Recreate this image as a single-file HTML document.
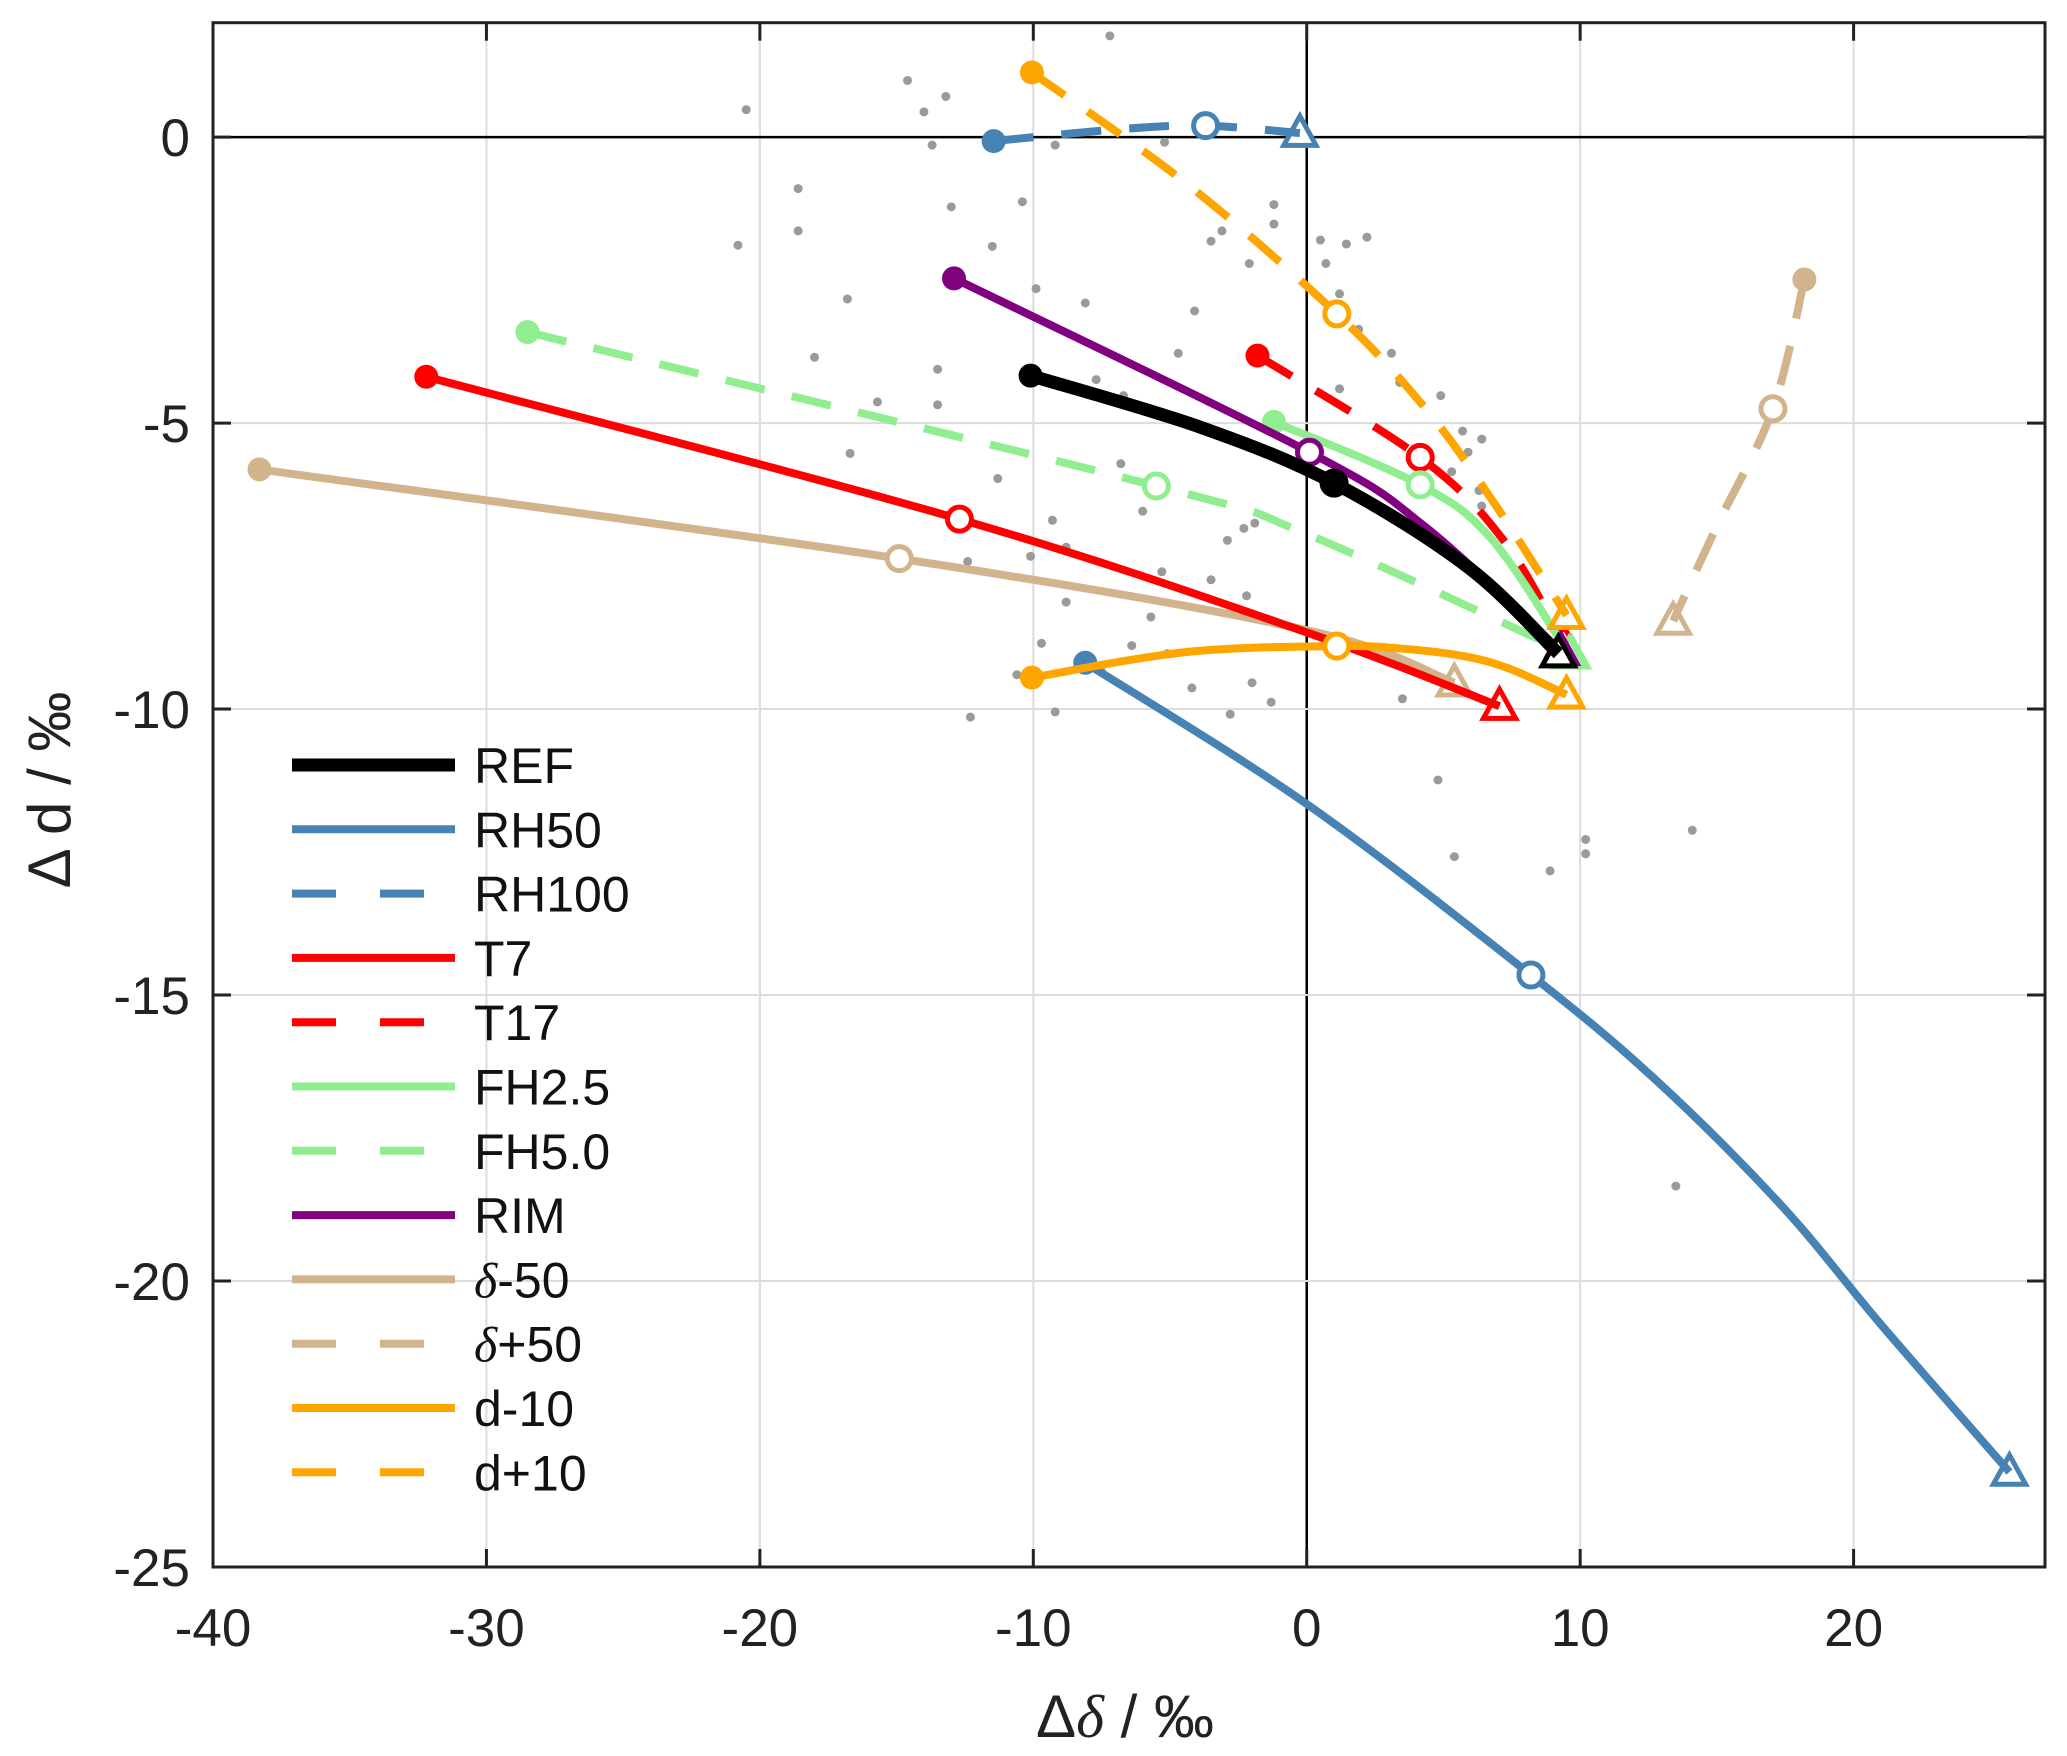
<!DOCTYPE html>
<html><head><meta charset="utf-8"><style>
html,body{margin:0;padding:0;background:#fff;}
svg{display:block;font-family:"Liberation Sans",sans-serif;}
</style></head><body>
<svg id="chart" width="2067" height="1756" viewBox="0 0 2067 1756" xmlns="http://www.w3.org/2000/svg">
<g id="grid"></g>
<g id="dots"></g>
<g id="series"></g>
<g id="axes"></g>
<g id="legend"></g>
<text transform="translate(70,790) rotate(-90)" text-anchor="middle" font-size="60" fill="#222">Δ d / ‰</text>
<text x="1125" y="1737" text-anchor="middle" font-size="60" fill="#222">Δ<tspan font-family="Liberation Serif" font-style="italic">δ</tspan> / ‰</text>
</svg>
<script>
const xTicks=[-40,-30,-20,-10,0,10,20];
const yTicks=[0,-5,-10,-15,-20,-25];
const dotX=[-7.2,-20.5,-14.6,-13.2,-14.0,-13.7,-5.2,-9.2,-13.0,-10.4,-18.6,-20.8,-18.6,-11.5,-3.1,-3.5,-1.2,0.5,1.45,2.2,0.7,-2.1,-1.2,-16.8,-9.9,-8.1,-4.1,1.2,1.9,3.1,-18.0,-13.5,-4.7,1.2,3.4,-13.5,-15.7,-7.7,-6.7,4.9,-16.7,5.7,6.4,5.9,5.3,6.3,-11.3,-6.8,-6.0,6.4,-9.3,-8.8,-2.3,-2.9,-1.9,-12.4,-10.1,-5.3,-3.5,-8.8,-2.2,-5.7,8.1,-9.7,-6.4,-5.1,-10.6,-7.5,-4.2,-2.0,-1.3,-2.8,-12.3,-9.2,3.5,4.8,5.4,8.9,10.2,10.2,14.1,13.5];
const dotY=[1.77,0.48,0.99,0.71,0.44,-0.14,-0.09,-0.14,-1.22,-1.13,-0.9,-1.89,-1.64,-1.91,-1.64,-1.82,-1.18,-1.8,-1.87,-1.75,-2.21,-2.21,-1.52,-2.83,-2.65,-2.9,-3.04,-2.74,-3.36,-3.78,-3.85,-4.06,-3.78,-4.4,-4.29,-4.68,-4.63,-4.24,-4.52,-4.52,-5.53,-5.14,-5.28,-5.51,-5.85,-6.18,-5.97,-5.71,-6.54,-6.45,-6.7,-7.17,-6.84,-7.05,-6.75,-7.42,-7.33,-7.6,-7.74,-8.13,-8.02,-8.39,-7.81,-8.85,-8.89,-9.03,-9.4,-9.35,-9.63,-9.54,-9.88,-10.09,-10.14,-10.05,-9.82,-11.24,-12.58,-12.83,-12.28,-12.53,-12.12,-18.34];

const names=["REF","RH50","RH100","T7","T17","FH2.5","FH5.0","RIM","δ-50","δ+50","d-10","d+10"];
const colors=["#000000","#4682b4","#4682b4","#ff0000","#ff0000","#90ee90","#90ee90","#800080","#d2b48c","#d2b48c","#ffa500","#ffa500"];
const dashed=[false,false,true,false,true,false,true,false,false,true,false,true];
const refX=[-10.1,-3.9,1.0,5.9,9.2], refY=[-4.17,-5.07,-6.05,-7.52,-9.03];
const rh50X=[-8.1,0,8.2,12.8,17.4,21,25.7], rh50Y=[-9.19,-11.66,-14.65,-16.5,-18.7,-20.76,-23.34];
const rh100X=[-11.45,-6.8,-3.7,-0.25], rh100Y=[-0.07,0.14,0.2,0.07];
const t7X=[-32.2,-12.7,0,7.05], t7Y=[-4.19,-6.68,-8.66,-9.95];
const t17X=[-1.8,4.15,7.2,9.4], t17Y=[-3.82,-5.6,-7.05,-8.85];
const fh25X=[-1.2,4.15,6.8,9.6], fh25Y=[-4.98,-6.08,-7.05,-9.05];
const fh50X=[-28.5,-5.5,0,9.7], fh50Y=[-3.41,-6.1,-6.94,-9.05];
const rimX=[-12.9,0.1,4.35,9.3], rimY=[-2.47,-5.51,-6.82,-8.99];
const dm50X=[-38.3,-14.9,0,5.4], dm50Y=[-5.81,-7.37,-8.62,-9.54];
const dp50X=[18.2,17.05,15,13.4], dp50Y=[-2.49,-4.75,-6.8,-8.46];
const dm10X=[-10.05,-4.35,1.1,3.4,5.8,7.5,9.5], dm10Y=[-9.45,-9.0,-8.9,-8.94,-9.08,-9.31,-9.75];
const dp10X=[-10.05,-4.35,1.1,4.35,6.8,9.5], dp10Y=[1.13,-0.83,-3.09,-4.75,-6.36,-8.36];
// index of hollow-circle point in each series
const midIdx=[2,2,2,1,1,1,1,1,1,1,2,2];

const seriesX=[refX,rh50X,rh100X,t7X,t17X,fh25X,fh50X,rimX,dm50X,dp50X,dm10X,dp10X];
const seriesY=[refY,rh50Y,rh100Y,t7Y,t17Y,fh25Y,fh50Y,rimY,dm50Y,dp50Y,dm10Y,dp10Y];

const L=213,R=2045,T=22.7,B=1567,XMIN=-40,XMAX=27,YMIN=-25,YMAX=2;
const sx=v=>L+(v-XMIN)/(XMAX-XMIN)*(R-L);
const sy=v=>B-(v-YMIN)/(YMAX-YMIN)*(B-T);
const NS="http://www.w3.org/2000/svg";
function mk(tag,attrs,parent){const e=document.createElementNS(NS,tag);for(const k in attrs)e.setAttribute(k,attrs[k]);parent.appendChild(e);return e;}

const grid=document.getElementById('grid');
xTicks.forEach(v=>{
  const l=mk('line',{x1:sx(v),x2:sx(v),y1:T,y2:B,stroke:v===0?'#000':'#dcdcdc','stroke-width':v===0?2.5:2},grid);
  
  
});
yTicks.forEach(v=>{
  const l=mk('line',{x1:L,x2:R,y1:sy(v),y2:sy(v),stroke:v===0?'#000':'#dcdcdc','stroke-width':v===0?2.5:2},grid);
  
  
});

const dots=document.getElementById('dots');
dotX.forEach((v,i)=>{
  const c=mk('circle',{cx:sx(v),cy:sy(dotY[i]),r:4.5,fill:'#9a9a9a'},dots);
  
  
});

const ser=document.getElementById('series');
function catmull(px,py){
  let d=`M${px[0]},${py[0]}`;
  for(let i=0;i<px.length-1;i++){
    const x0=px[i-1]??px[i],y0=py[i-1]??py[i],x3=px[i+2]??px[i+1],y3=py[i+2]??py[i+1];
    const c1x=px[i]+(px[i+1]-x0)/6,c1y=py[i]+(py[i+1]-y0)/6;
    const c2x=px[i+1]-(x3-px[i])/6,c2y=py[i+1]-(y3-py[i])/6;
    d+=` C${c1x},${c1y} ${c2x},${c2y} ${px[i+1]},${py[i+1]}`;
  }
  return d;
}
function tri(cx,cy,s,col,parent){
  return mk('polygon',{points:`${cx},${cy-s} ${cx-s*0.95},${cy+s*0.72} ${cx+s*0.95},${cy+s*0.72}`,fill:'#fff',stroke:col,'stroke-width':5,'stroke-linejoin':'miter'},parent);
}
const order=[8,9,3,4,1,2,6,5,7,0,10,11];
order.forEach(k=>{
  const g=mk('g',{},ser);
  
  
  const px=seriesX[k].map(sx),py=seriesY[k].map(sy);
  const n=px.length-1;
  const tr=tri(px[n],py[n],17,colors[k],g);
  
  
  const path=mk('path',{d:catmull(px,py),fill:'none',stroke:colors[k],'stroke-width':k===0?13:8,'stroke-dasharray':dashed[k]?'40 28':'none'},g);
  
  
  const st=mk('circle',{cx:px[0],cy:py[0],r:12,fill:colors[k]},g);
  
  
  const m=midIdx[k];
  const mc=mk('circle',{cx:px[m],cy:py[m],r:12,fill:k===0?'#000':'#fff',stroke:colors[k],'stroke-width':5},g);
  
  
});

const ax=document.getElementById('axes');
const box=mk('rect',{x:L,y:T,width:R-L,height:B-T,fill:'none',stroke:'#222','stroke-width':3},ax);


xTicks.forEach(v=>{
  mk('line',{x1:sx(v),x2:sx(v),y1:B,y2:B-18,stroke:'#222','stroke-width':3},ax);
  mk('line',{x1:sx(v),x2:sx(v),y1:T,y2:T+18,stroke:'#222','stroke-width':3},ax);
  const t=mk('text',{x:sx(v),y:1646,'text-anchor':'middle','font-size':53,fill:'#222'},ax);
  t.textContent=v;
  
  
});
yTicks.forEach(v=>{
  mk('line',{x1:L,x2:L+18,y1:sy(v),y2:sy(v),stroke:'#222','stroke-width':3},ax);
  mk('line',{x1:R,x2:R-18,y1:sy(v),y2:sy(v),stroke:'#222','stroke-width':3},ax);
  const t=mk('text',{x:190,y:sy(v)+19,'text-anchor':'end','font-size':53,fill:'#222'},ax);
  t.textContent=v;
  
  
});

const lg=document.getElementById('legend');
names.forEach((nm,k)=>{
  const y=765+k*64.3;
  const g=mk('g',{},lg);
  
  
  mk('line',{x1:292,x2:455,y1:y,y2:y,stroke:colors[k],'stroke-width':k===0?13:8,'stroke-dasharray':dashed[k]?'44 44':'none'},g);
  const t=mk('text',{x:474,y:y+18,'font-size':50,fill:'#111'},g);
  if(nm[0]==='δ'){
    const s=mk('tspan',{'font-family':'Liberation Serif','font-style':'italic'},t);s.textContent='δ';
    const r=mk('tspan',{},t);r.textContent=nm.slice(1);
  } else t.textContent=nm;
});
</script>
</body></html>
